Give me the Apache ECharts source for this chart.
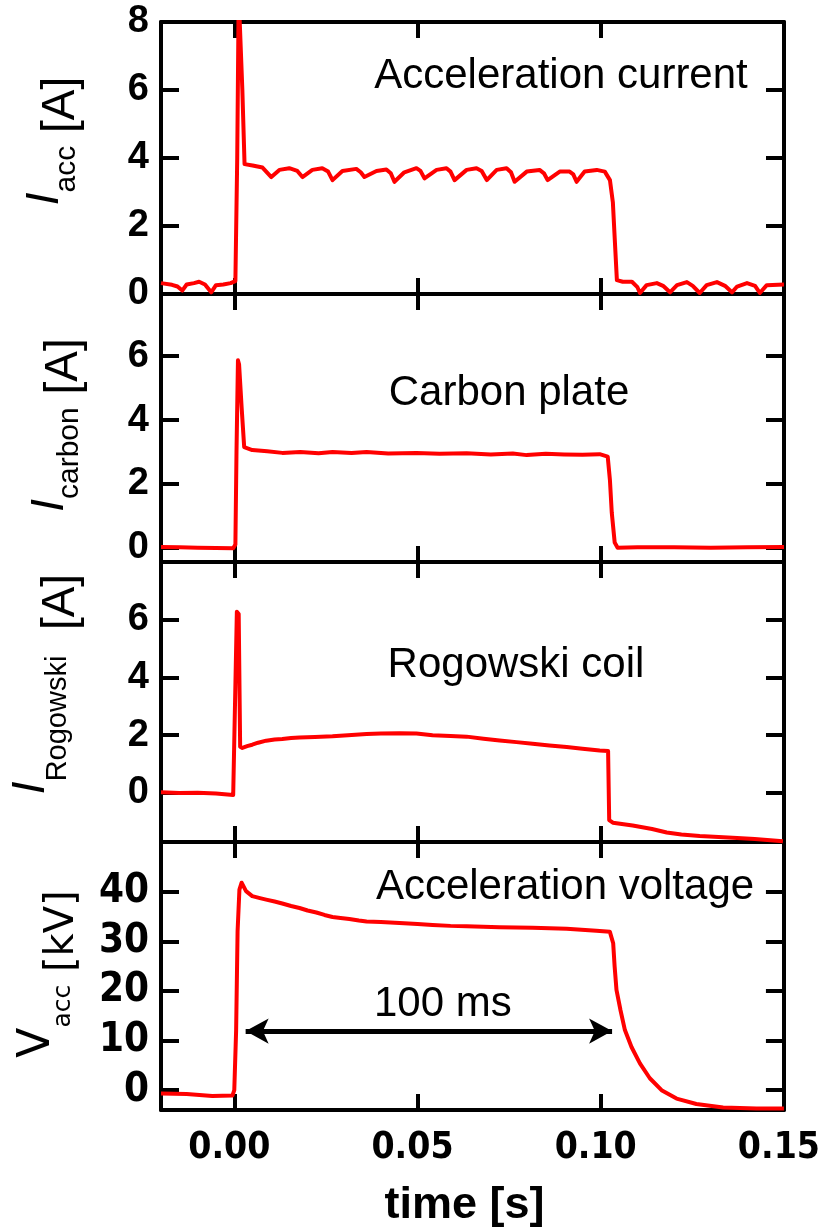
<!DOCTYPE html>
<html>
<head>
<meta charset="utf-8">
<script src="https://cdn.jsdelivr.net/npm/echarts@6/dist/echarts.min.js"></script>
<style>
  html, body { margin: 0; padding: 0; background: #ffffff; }
  #chart { width: 823px; height: 1229px; }
</style>
</head>
<body>
<div id="chart"></div>
<script>
// ---- time axis (seconds) ----
const timeRange = [-0.02, 0.15];
const timeTicks = [0, 0.05, 0.10, 0.15];

// ---- acceleration current I_acc [A] : [t, value] ----
const accCurrent = [
  [-0.0200, 0.32], [-0.0170, 0.27], [-0.0155, 0.22], [-0.0142, 0.10], [-0.0130, 0.28],
  [-0.0110, 0.32], [-0.0096, 0.36], [-0.0080, 0.28], [-0.0063, 0.05], [-0.0050, 0.26],
  [-0.0030, 0.28], [-0.0010, 0.32], [0.0003, 0.38],
  [0.0008, 4.0], [0.0012, 8.8], [0.0016, 8.8], [0.0022, 6.0], [0.0028, 3.82],
  [0.0050, 3.78], [0.0077, 3.72], [0.0101, 3.44], [0.0123, 3.65], [0.0150, 3.70],
  [0.0172, 3.62], [0.0186, 3.44], [0.0213, 3.65], [0.0240, 3.70], [0.0256, 3.60],
  [0.0268, 3.35], [0.0295, 3.62], [0.0333, 3.68], [0.0345, 3.58], [0.0355, 3.44],
  [0.0388, 3.62], [0.0415, 3.66], [0.0427, 3.55], [0.0437, 3.30], [0.0464, 3.58],
  [0.0497, 3.70], [0.0508, 3.62], [0.0519, 3.40], [0.0552, 3.65], [0.0579, 3.70],
  [0.0590, 3.60], [0.0601, 3.35], [0.0634, 3.65], [0.0661, 3.70], [0.0675, 3.62],
  [0.0689, 3.35], [0.0716, 3.65], [0.0743, 3.70], [0.0755, 3.58], [0.0765, 3.30],
  [0.0798, 3.60], [0.0833, 3.65], [0.0845, 3.55], [0.0855, 3.35], [0.0888, 3.60],
  [0.0915, 3.60], [0.0925, 3.52], [0.0934, 3.30], [0.0956, 3.60], [0.0989, 3.65],
  [0.1011, 3.60], [0.1025, 3.35], [0.1033, 2.70], [0.1038, 1.65], [0.1044, 0.41],
  [0.1060, 0.36], [0.1085, 0.36], [0.1100, 0.20], [0.1107, 0.03], [0.1125, 0.26],
  [0.1153, 0.32], [0.1170, 0.24], [0.1189, 0.05], [0.1208, 0.26], [0.1235, 0.35],
  [0.1251, 0.24], [0.1270, 0.03], [0.1289, 0.26], [0.1317, 0.35], [0.1339, 0.24],
  [0.1358, 0.05], [0.1372, 0.22], [0.1399, 0.32], [0.1421, 0.24], [0.1434, 0.03],
  [0.1453, 0.26], [0.1500, 0.28]
];
const accCurrentRange = [0, 8];
const accCurrentTicks = [0, 2, 4, 6, 8];

// ---- carbon plate current I_carbon [A] ----
const carbonCurrent = [
  [-0.0200, 0.02], [-0.0150, 0.01], [-0.0100, 0.00], [-0.0050, -0.01], [-0.0003, -0.02],
  [0.0003, 0.10], [0.0006, 3.0], [0.0010, 5.87], [0.0013, 5.75], [0.0020, 4.4],
  [0.0027, 3.15], [0.0049, 3.06], [0.0090, 3.02], [0.0131, 2.97], [0.0180, 3.00],
  [0.0230, 2.96], [0.0268, 3.00], [0.0320, 2.97], [0.0361, 3.00], [0.0420, 2.95],
  [0.0497, 2.97], [0.0560, 2.94], [0.0634, 2.96], [0.0700, 2.92], [0.0760, 2.95],
  [0.0798, 2.90], [0.0850, 2.94], [0.0900, 2.92], [0.0950, 2.91], [0.0997, 2.93],
  [0.1019, 2.85], [0.1025, 2.12], [0.1030, 1.10], [0.1038, 0.16], [0.1046, 0.00],
  [0.1100, 0.01], [0.1200, 0.01], [0.1300, 0.00], [0.1400, 0.01], [0.1500, 0.02]
];
const carbonRange = [-0.45, 7.95];
const carbonTicks = [0, 2, 4, 6];

// ---- Rogowski coil current I_Rogowski [A] ----
const rogowskiCurrent = [
  [-0.0200, 0.02], [-0.0150, 0.00], [-0.0100, 0.01], [-0.0050, -0.02], [-0.0003, -0.07],
  [0.0002, -0.05], [0.0007, 6.28], [0.0012, 6.20], [0.0016, 1.60], [0.0022, 1.56],
  [0.0035, 1.62], [0.0049, 1.67], [0.0065, 1.74], [0.0087, 1.81], [0.0110, 1.85],
  [0.0131, 1.87], [0.0155, 1.90], [0.0178, 1.92], [0.0220, 1.94], [0.0268, 1.96],
  [0.0310, 2.00], [0.0361, 2.04], [0.0400, 2.06], [0.0451, 2.07], [0.0497, 2.06],
  [0.0541, 2.00], [0.0590, 1.97], [0.0634, 1.95], [0.0680, 1.88], [0.0724, 1.82],
  [0.0770, 1.76], [0.0814, 1.70], [0.0860, 1.64], [0.0907, 1.59], [0.0950, 1.53],
  [0.0997, 1.47], [0.1020, 1.45], [0.1023, -0.94], [0.1033, -1.03], [0.1087, -1.13],
  [0.1140, -1.25], [0.1180, -1.37], [0.1220, -1.44], [0.1270, -1.49], [0.1360, -1.55],
  [0.1420, -1.60], [0.1497, -1.67]
];
const rogowskiRange = [-1.7, 8];
const rogowskiTicks = [0, 2, 4, 6];

// ---- acceleration voltage V_acc [kV] ----
const accVoltage = [
  [-0.0200, -0.7], [-0.0130, -0.8], [-0.0060, -1.2], [-0.0005, -1.1], [0.0000, 0.0],
  [0.0005, 12.0], [0.0009, 32.0], [0.0014, 40.4], [0.0020, 41.8], [0.0032, 40.1],
  [0.0049, 39.1], [0.0070, 38.7], [0.0087, 38.4], [0.0110, 38.0], [0.0131, 37.6],
  [0.0155, 37.1], [0.0178, 36.7], [0.0200, 36.2], [0.0224, 35.8], [0.0246, 35.3],
  [0.0268, 34.9], [0.0290, 34.7], [0.0314, 34.5], [0.0340, 34.2], [0.0361, 34.0],
  [0.0400, 33.9], [0.0451, 33.7], [0.0500, 33.5], [0.0541, 33.3], [0.0590, 33.1],
  [0.0634, 33.0], [0.0724, 32.8], [0.0814, 32.7], [0.0907, 32.5], [0.0988, 32.1],
  [0.1025, 31.9], [0.1034, 29.6], [0.1038, 24.9], [0.1043, 20.2], [0.1054, 16.1],
  [0.1066, 12.1], [0.1084, 8.7], [0.1107, 5.4], [0.1134, 2.4], [0.1166, 0.0],
  [0.1207, -1.7], [0.1261, -2.8], [0.1334, -3.5], [0.1425, -3.7], [0.1500, -3.7]
];
const voltageRange = [-4, 50];
const voltageTicks = [0, 10, 20, 30, 40];

// pulse-width annotation (s, kV)
const pulseStart = 0.0031;
const pulseWidth = 0.100;
const pulseLevel = 11.9;

// ---- layout ----
const GRID_LEFT = 161;
const GRID_RIGHT = 39;
const layout = [
  { top: 22,  height: 272, font: 'Liberation Sans',       size: 38 },
  { top: 294, height: 268, font: 'Liberation Sans',       size: 38 },
  { top: 562, height: 280, font: 'Liberation Sans',       size: 38 },
  { top: 842, height: 268, font: 'DejaVu Sans Condensed', size: 40 }
];
const signals = [accCurrent, carbonCurrent, rogowskiCurrent, accVoltage];
const ranges = [accCurrentRange, carbonRange, rogowskiRange, voltageRange];
const tickSets = [accCurrentTicks, carbonTicks, rogowskiTicks, voltageTicks];

const FRAME = { color: '#000', width: 4 };

const grids = [], xAxes = [], yAxes = [], series = [];

layout.forEach((p, i) => {
  grids.push({ left: GRID_LEFT, right: GRID_RIGHT, top: p.top, height: p.height, containLabel: false });
  const last = i === layout.length - 1;

  ['bottom', 'top'].forEach(pos => {
    const withLabels = last && pos === 'bottom';
    const ax = {
      type: 'value', gridIndex: i, position: pos,
      min: timeRange[0], max: timeRange[1],
      axisLine: { show: true, onZero: false, lineStyle: FRAME },
      axisTick: { show: true, inside: true, length: 16, lineStyle: FRAME, customValues: timeTicks },
      axisLabel: {
        show: withLabels, customValues: timeTicks,
        formatter: v => v.toFixed(2),
        margin: 20, padding: [0, 10, 0, 0],
        fontFamily: 'DejaVu Sans Condensed', fontWeight: 'bold', fontSize: 37, color: '#000'
      },
      splitLine: { show: false }
    };
    if (withLabels) {
      ax.name = 'time [s]';
      ax.nameLocation = 'middle';
      ax.nameGap = 73;
      ax.nameTextStyle = {
        fontFamily: 'Liberation Sans', fontWeight: 'bold', fontSize: 45, color: '#000',
        padding: [0, 16, 0, 0]
      };
    }
    xAxes.push(ax);
  });

  ['left', 'right'].forEach(pos => {
    yAxes.push({
      type: 'value', gridIndex: i, position: pos,
      min: ranges[i][0], max: ranges[i][1],
      axisLine: { show: true, onZero: false, lineStyle: FRAME },
      axisTick: { show: true, inside: true, length: 18, lineStyle: FRAME, customValues: tickSets[i] },
      axisLabel: {
        show: pos === 'left', customValues: tickSets[i], margin: 12,
        fontFamily: p.font, fontWeight: 'bold', fontSize: p.size, color: '#000'
      },
      splitLine: { show: false }
    });
  });

  const s = {
    type: 'line', xAxisIndex: 2 * i, yAxisIndex: 2 * i,
    data: signals[i], symbol: 'none', showSymbol: false,
    clip: true, silent: true, animation: false,
    lineStyle: { color: '#ff0000', width: 4, join: 'round' }
  };
  if (last) {
    s.markLine = {
      silent: true, animation: false,
      symbol: ['arrow', 'arrow'], symbolSize: [19, 23],
      lineStyle: { color: '#000', width: 5, type: 'solid' },
      label: {
        show: true, position: 'middle', distance: 6,
        formatter: () => Math.round(pulseWidth * 1000) + ' ms',
        fontFamily: 'Liberation Sans', fontSize: 42, color: '#000',
        padding: [0, 0, 0, 28]
      },
      emphasis: { disabled: true },
      data: [[
        { coord: [pulseStart, pulseLevel] },
        { coord: [pulseStart + pulseWidth, pulseLevel] }
      ]]
    };
  }
  series.push(s);
});

// ---- panel captions and rotated axis titles ----
function caption(text, x, y) {
  return {
    type: 'text', x, y, silent: true,
    style: {
      text, fill: '#000', fontFamily: 'Liberation Sans', fontSize: 42,
      align: 'center', verticalAlign: 'middle', textAlign: 'center', textVerticalAlign: 'middle'
    }
  };
}

function axisTitle(text, x, y, rich) {
  return {
    type: 'text', x, y, rotation: Math.PI / 2, silent: true,
    style: {
      text, rich, fill: '#000',
      align: 'center', verticalAlign: 'middle', textAlign: 'center', textVerticalAlign: 'middle'
    }
  };
}

const ARIAL = 'Liberation Sans';
const DEJA = 'DejaVu Sans';

const graphics = [
  caption('Acceleration current', 561, 76),
  caption('Carbon plate', 509, 393),
  caption('Rogowski coil', 516, 665),
  caption('Acceleration voltage', 565, 887),

  axisTitle('{m|I}{s|acc}{u| [A]}', 61, 141, {
    m: { fontFamily: ARIAL, fontSize: 46, fontStyle: 'italic', fill: '#000', padding: [0, 0, 32, 0] },
    s: { fontFamily: ARIAL, fontSize: 30, fill: '#000', padding: [11, 0, 0, 0] },
    u: { fontFamily: ARIAL, fontSize: 46, fill: '#000' }
  }),
  axisTitle('{m|I}{s|carbon}{u| [A]}', 64, 425, {
    m: { fontFamily: ARIAL, fontSize: 46, fontStyle: 'italic', fill: '#000', padding: [0, 0, 28, 0] },
    s: { fontFamily: ARIAL, fontSize: 30, fill: '#000', padding: [11, 0, 0, 0] },
    u: { fontFamily: ARIAL, fontSize: 46, fill: '#000' }
  }),
  axisTitle('{m|I}{s|Rogowski}{u|  [A]}', 61, 684, {
    m: { fontFamily: ARIAL, fontSize: 46, fontStyle: 'italic', fill: '#000', padding: [0, 0, 60, 0] },
    s: { fontFamily: ARIAL, fontSize: 29, fill: '#000', padding: [0, 0, 6, 0] },
    u: { fontFamily: ARIAL, fontSize: 46, fill: '#000' }
  }),
  axisTitle('{m|V}{s|acc}{u| [kV]}', 63, 974, {
    m: { fontFamily: DEJA, fontSize: 44, fill: '#000', padding: [0, 0, 50, 0] },
    s: { fontFamily: DEJA, fontSize: 25, fill: '#000' },
    u: { fontFamily: DEJA, fontSize: 40, fill: '#000' }
  })
];

const chart = echarts.init(document.getElementById('chart'), null, { renderer: 'canvas' });
chart.setOption({
  backgroundColor: '#ffffff',
  animation: false,
  grid: grids,
  xAxis: xAxes,
  yAxis: yAxes,
  series: series,
  graphic: graphics
});
</script>
</body>
</html>
